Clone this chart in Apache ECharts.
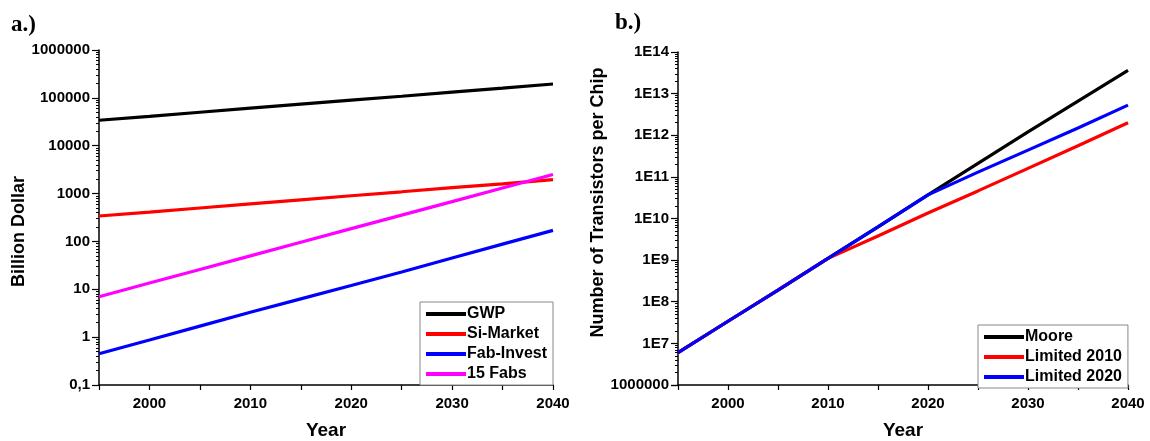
<!DOCTYPE html>
<html><head><meta charset="utf-8">
<script src="https://cdn.jsdelivr.net/npm/echarts@6/dist/echarts.min.js"></script>
<style>html,body{margin:0;padding:0;background:#fff}#c{width:1150px;height:441px}</style>
</head><body><div id="c"></div>
<script>
// ---- data ----
const years = [1995, 2000, 2005, 2010, 2015, 2020, 2025, 2030, 2035, 2040];
// panel a (billion dollar)
const gwp        = [34000, 41000, 50000, 61000, 74000, 90000, 108000, 132000, 160000, 195000];
const siMarket   = [340, 410, 500, 610, 740, 900, 1090, 1330, 1600, 1950];
const fabInvest  = [0.45, 0.87, 1.7, 3.3, 6.3, 12, 23, 45, 88, 170];
const fabs15     = [7, 13.5, 26, 50, 96, 185, 355, 680, 1310, 2500];
// panel b (transistors per chip)
const moore      = [6.0e6, 3.4e7, 1.9e8, 1.1e9, 6.3e9, 3.7e10, 2.1e11, 1.2e12, 6.6e12, 3.6e13];
const limited2010= [6.0e6, 3.4e7, 1.9e8, 1.1e9, 3.8e9, 1.35e10, 4.6e10, 1.6e11, 5.6e11, 2.0e12];
const limited2020= [6.0e6, 3.4e7, 1.9e8, 1.1e9, 6.3e9, 3.7e10, 1.3e11, 4.4e11, 1.5e12, 5.3e12];
const namesA = ['GWP', 'Si-Market', 'Fab-Invest', '15 Fabs'];
const namesB = ['Moore', 'Limited 2010', 'Limited 2020'];

const pair = arr => years.map((y, i) => [y, arr[i]]);
const F = "'Liberation Sans', Arial, sans-serif";
const lbl = {fontFamily: F, fontWeight: 'bold', fontSize: 15, color: '#000'};
const axisLine = {show: true, lineStyle: {color: '#000', width: 1.5}};

function xAx(gi) {
  return {
    type: 'value', gridIndex: gi, min: 1995, max: 2040, interval: 5,
    name: 'Year', nameLocation: 'middle', nameGap: 36,
    nameTextStyle: {fontFamily: F, fontWeight: 'bold', fontSize: 19, color: '#000'},
    axisLine: axisLine, axisTick: {show: true, length: 5, lineStyle: {color: '#000', width: 1.2}},
    axisLabel: Object.assign({margin: 11, formatter: v => (v % 10 === 0 ? String(v) : '')}, lbl),
    splitLine: {show: false}
  };
}
function yAx(gi, min, max, name, gap, fmt, namePad) {
  return {
    type: 'log', logBase: 10, gridIndex: gi, min: min, max: max,
    name: name, nameLocation: 'middle', nameGap: gap,
    nameTextStyle: {fontFamily: F, fontWeight: 'bold', fontSize: 18, color: '#000', padding: namePad},
    axisLine: axisLine,
    axisTick: {show: true, length: 7, lineStyle: {color: '#000', width: 1.2}},
    minorTick: {show: true, splitNumber: 9, length: 3, lineStyle: {color: '#000', width: 1}},
    axisLabel: Object.assign({margin: 9, formatter: fmt}, lbl),
    splitLine: {show: false}
  };
}
const fmtA = v => (v < 1 ? '0,1' : String(Math.round(v)));
const fmtB = v => { const e = Math.round(Math.log10(v)); return e <= 6 ? '1000000' : '1E' + e; };

function line(name, data, color, xi, yi) {
  return {type: 'line', name: name, data: pair(data), xAxisIndex: xi, yAxisIndex: yi,
    symbol: 'none', smooth: false, lineStyle: {color: color, width: 3.2}, itemStyle: {color: color}};
}

const legendCommon = {
  orient: 'vertical', borderColor: '#888', borderWidth: 1, backgroundColor: '#fff',
  icon: 'rect', itemWidth: 40, itemHeight: 4, itemGap: 2, padding: [3, 6, 2, 6],
  textStyle: {fontFamily: F, fontWeight: 'bold', fontSize: 16, lineHeight: 18, color: '#000', padding: [0, 0, 0, -4]}
};

const chart = echarts.init(document.getElementById('c'), null, {renderer: 'canvas'});
chart.setOption({
  backgroundColor: '#fff',
  animation: false,
  title: [
    {text: 'a.)', left: 6, top: 9, textStyle: {fontFamily: "'Liberation Serif', serif", fontWeight: 'bold', fontSize: 23, color: '#000'}},
    {text: 'b.)', left: 610, top: 7, textStyle: {fontFamily: "'Liberation Serif', serif", fontWeight: 'bold', fontSize: 23, color: '#000'}}
  ],
  grid: [
    {left: 99, right: 597, top: 50, bottom: 56, containLabel: false, outerBoundsMode: 'none'},
    {left: 678, right: 22, top: 52, bottom: 56, containLabel: false, outerBoundsMode: 'none'}
  ],
  xAxis: [xAx(0), xAx(1)],
  yAxis: [
    yAx(0, 0.1, 1000000, 'Billion Dollar', 67, fmtA, [0, 28, 0, 0]),
    yAx(1, 1000000, 1e14, 'Number of Transistors per Chip', 65, fmtB, [0, 0, 0, 32])
  ],
  legend: [
    Object.assign({}, legendCommon, {data: namesA, left: 420, top: 302}),
    Object.assign({}, legendCommon, {data: namesB, left: 978, top: 325})
  ],
  series: [
    line(namesA[0], gwp, '#000000', 0, 0),
    line(namesA[1], siMarket, '#ff0000', 0, 0),
    line(namesA[2], fabInvest, '#0000ff', 0, 0),
    line(namesA[3], fabs15, '#ff00ff', 0, 0),
    line(namesB[0], moore, '#000000', 1, 1),
    line(namesB[1], limited2010, '#ff0000', 1, 1),
    line(namesB[2], limited2020, '#0000ff', 1, 1)
  ]
});
</script></body></html>
